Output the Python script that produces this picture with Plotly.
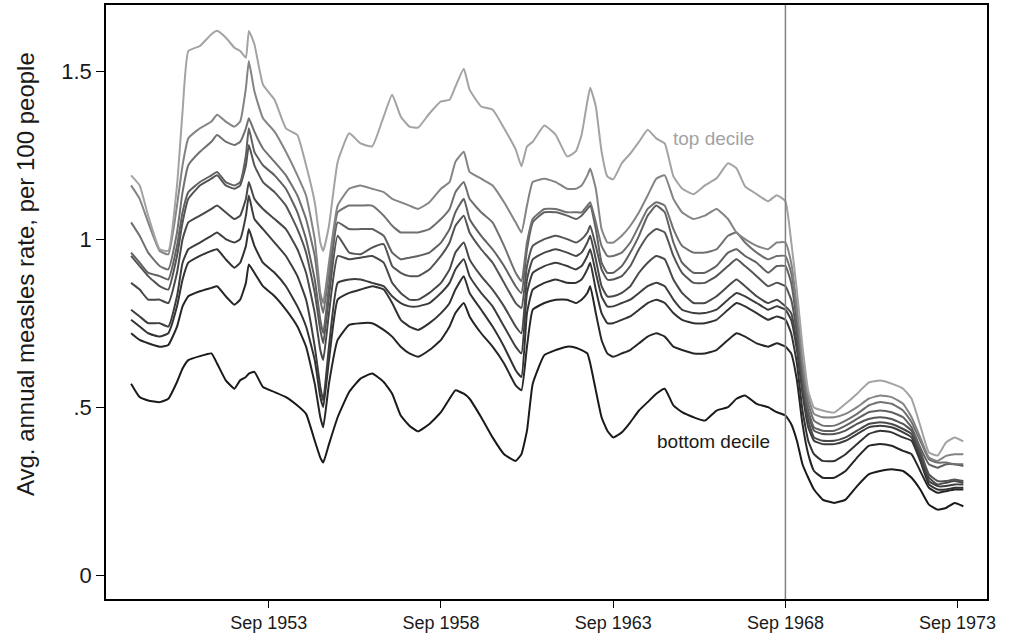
import pandas as pd
import plotly.graph_objects as go

# months since Sep 1949 at which values were read
months = [0,3,6,10,13,16,18,20,24,28,30,33,36,38,40,41,43,46,50,54,58,61,64,66,67,69,72,76,80,84,
          88,91,94,97,100,104,108,111,113,116,118,122,126,130,134,136,138,140,144,148,152,155,157,159,160,
          162,164,166,168,171,174,177,180,183,186,189,192,196,200,204,208,211,214,218,222,225,228,230,232,234,
          236,238,241,245,249,253,257,261,265,269,272,275,278,281,284,287,290]

d10 = [1.19,1.16,1.07,0.97,0.965,1.16,1.38,1.56,1.575,1.61,
       1.62,1.60,1.57,1.56,1.54,1.62,1.58,1.46,1.415,1.33,
       1.31,1.22,1.11,0.99,0.965,1.04,1.23,1.315,1.285,1.276,
       1.365,1.43,1.365,1.335,1.332,1.374,1.41,1.415,1.454,1.507,
       1.445,1.395,1.386,1.33,1.267,1.217,1.276,1.29,1.338,1.31,
       1.246,1.261,1.31,1.41,1.451,1.395,1.261,1.187,1.178,1.226,
       1.255,1.29,1.326,1.30,1.285,1.187,1.151,1.134,1.16,1.181,
       1.226,1.211,1.157,1.134,1.113,1.131,1.113,0.994,0.846,0.682,
       0.549,0.499,0.49,0.484,0.51,0.54,0.573,0.579,0.57,0.555,
       0.525,0.445,0.365,0.356,0.395,0.41,0.398]
d9 = [1.16,1.12,1.05,0.965,0.955,1.10,1.22,1.30,1.33,1.35,
      1.37,1.35,1.335,1.35,1.45,1.53,1.44,1.36,1.32,1.26,
      1.19,1.13,1.00,0.84,0.81,0.93,1.10,1.15,1.16,1.15,
      1.14,1.12,1.11,1.10,1.09,1.11,1.15,1.17,1.23,1.26,
      1.20,1.18,1.16,1.11,1.05,1.02,1.10,1.17,1.18,1.17,
      1.15,1.15,1.16,1.19,1.21,1.15,1.03,0.99,0.99,1.01,
      1.04,1.08,1.13,1.18,1.19,1.12,1.08,1.06,1.07,1.09,
      1.06,1.02,1.00,0.98,0.97,0.99,0.99,0.93,0.80,0.64,
      0.53,0.48,0.47,0.47,0.48,0.50,0.525,0.535,0.53,0.51,
      0.47,0.41,0.35,0.34,0.355,0.36,0.36]
d8 = [1.05,1.01,0.96,0.92,0.91,1.02,1.14,1.22,1.26,1.29,
      1.31,1.29,1.28,1.29,1.33,1.36,1.32,1.27,1.23,1.19,
      1.13,1.06,0.95,0.82,0.78,0.90,1.08,1.10,1.10,1.10,
      1.07,1.04,1.02,1.02,1.02,1.03,1.06,1.09,1.14,1.17,
      1.12,1.08,1.05,0.98,0.90,0.875,0.99,1.06,1.09,1.09,
      1.08,1.08,1.08,1.10,1.11,1.05,0.98,0.95,0.95,0.96,
      0.99,1.04,1.09,1.11,1.10,1.03,0.98,0.96,0.96,0.97,
      1.01,1.02,0.99,0.96,0.94,0.95,0.95,0.90,0.78,0.62,
      0.51,0.46,0.445,0.445,0.46,0.48,0.505,0.515,0.51,0.49,
      0.455,0.40,0.345,0.335,0.335,0.33,0.33]
d7 = [0.96,0.93,0.90,0.89,0.88,0.98,1.08,1.14,1.17,1.19,
      1.20,1.17,1.16,1.17,1.25,1.33,1.26,1.22,1.19,1.15,
      1.08,1.00,0.88,0.76,0.72,0.86,1.05,1.03,1.03,1.03,
      1.01,0.96,0.94,0.945,0.95,0.96,0.99,1.03,1.08,1.12,
      1.06,1.01,0.97,0.92,0.86,0.84,0.97,1.05,1.08,1.08,
      1.07,1.06,1.07,1.09,1.10,1.03,0.93,0.90,0.90,0.92,
      0.96,1.01,1.07,1.10,1.08,0.99,0.93,0.90,0.90,0.92,
      0.96,0.97,0.95,0.93,0.90,0.92,0.92,0.87,0.75,0.60,
      0.49,0.44,0.43,0.43,0.445,0.465,0.485,0.49,0.485,0.47,
      0.44,0.38,0.33,0.32,0.33,0.33,0.325]
d6 = [0.95,0.92,0.89,0.86,0.85,0.95,1.05,1.12,1.16,1.18,
      1.19,1.16,1.15,1.16,1.22,1.28,1.22,1.17,1.14,1.10,
      1.03,0.96,0.84,0.73,0.69,0.83,1.01,0.96,0.955,0.975,
      0.985,0.92,0.90,0.89,0.89,0.91,0.95,0.99,1.04,1.07,
      1.02,0.97,0.93,0.87,0.81,0.795,0.92,0.98,1.00,1.01,
      1.00,0.99,1.00,1.02,1.04,0.98,0.91,0.88,0.88,0.89,
      0.92,0.97,1.01,1.03,1.02,0.95,0.90,0.87,0.87,0.89,
      0.92,0.94,0.92,0.89,0.86,0.87,0.86,0.82,0.72,0.58,
      0.48,0.43,0.42,0.42,0.43,0.45,0.465,0.47,0.465,0.45,
      0.43,0.37,0.30,0.28,0.28,0.285,0.28]
d5 = [0.87,0.85,0.82,0.82,0.81,0.90,1.00,1.05,1.07,1.09,
      1.10,1.08,1.06,1.07,1.12,1.17,1.12,1.09,1.06,1.03,
      0.97,0.90,0.78,0.67,0.64,0.78,0.95,0.94,0.945,0.95,
      0.93,0.87,0.84,0.82,0.82,0.84,0.87,0.91,0.96,0.99,
      0.94,0.89,0.85,0.80,0.74,0.72,0.88,0.94,0.96,0.97,
      0.96,0.95,0.96,0.99,1.01,0.94,0.86,0.83,0.83,0.84,
      0.86,0.90,0.93,0.95,0.94,0.88,0.84,0.81,0.81,0.83,
      0.86,0.88,0.86,0.83,0.81,0.82,0.80,0.78,0.69,0.56,
      0.46,0.41,0.40,0.40,0.41,0.43,0.45,0.455,0.45,0.435,
      0.42,0.36,0.29,0.27,0.275,0.28,0.275]
d4 = [0.79,0.77,0.75,0.75,0.74,0.83,0.93,0.97,0.99,1.01,
      1.02,1.00,0.99,1.00,1.07,1.13,1.06,1.03,0.99,0.95,
      0.89,0.82,0.68,0.56,0.52,0.68,0.87,0.88,0.88,0.87,
      0.86,0.83,0.81,0.80,0.80,0.81,0.84,0.87,0.91,0.94,
      0.89,0.84,0.80,0.74,0.68,0.66,0.84,0.90,0.92,0.93,
      0.92,0.91,0.92,0.95,0.97,0.90,0.83,0.80,0.80,0.81,
      0.82,0.84,0.86,0.87,0.86,0.82,0.79,0.78,0.78,0.79,
      0.82,0.84,0.83,0.81,0.79,0.80,0.79,0.76,0.67,0.54,
      0.44,0.40,0.39,0.39,0.40,0.42,0.44,0.445,0.44,0.425,
      0.41,0.35,0.28,0.265,0.265,0.27,0.27]
d3 = [0.76,0.74,0.72,0.71,0.72,0.80,0.88,0.93,0.95,0.965,
      0.97,0.94,0.915,0.93,0.98,1.03,0.98,0.93,0.90,0.86,
      0.80,0.74,0.64,0.53,0.50,0.64,0.82,0.84,0.85,0.86,
      0.85,0.81,0.76,0.74,0.73,0.75,0.78,0.81,0.85,0.89,
      0.84,0.79,0.74,0.68,0.61,0.59,0.78,0.85,0.87,0.88,
      0.87,0.87,0.88,0.91,0.93,0.85,0.78,0.75,0.75,0.76,
      0.77,0.79,0.81,0.82,0.81,0.78,0.76,0.75,0.75,0.76,
      0.79,0.81,0.80,0.78,0.76,0.77,0.76,0.72,0.63,0.49,
      0.40,0.36,0.34,0.34,0.36,0.39,0.42,0.43,0.425,0.41,
      0.40,0.34,0.27,0.255,0.255,0.26,0.26]
d2 = [0.72,0.70,0.69,0.68,0.685,0.74,0.80,0.83,0.845,0.855,
      0.86,0.83,0.805,0.82,0.87,0.925,0.90,0.86,0.83,0.79,
      0.74,0.68,0.57,0.47,0.44,0.57,0.70,0.745,0.75,0.75,
      0.73,0.71,0.68,0.66,0.65,0.67,0.70,0.74,0.78,0.81,
      0.77,0.72,0.68,0.63,0.565,0.55,0.68,0.79,0.81,0.82,
      0.82,0.81,0.82,0.84,0.86,0.78,0.70,0.66,0.65,0.66,
      0.67,0.69,0.71,0.72,0.71,0.68,0.67,0.66,0.66,0.67,
      0.70,0.72,0.71,0.69,0.68,0.69,0.68,0.66,0.58,0.45,
      0.36,0.31,0.29,0.29,0.31,0.35,0.385,0.39,0.385,0.37,
      0.36,0.31,0.26,0.245,0.25,0.255,0.255]
d1 = [0.57,0.53,0.52,0.515,0.525,0.575,0.615,0.64,0.652,0.66,
      0.63,0.58,0.555,0.58,0.59,0.60,0.605,0.56,0.545,0.53,
      0.505,0.48,0.40,0.35,0.335,0.39,0.47,0.545,0.585,0.60,
      0.575,0.54,0.475,0.445,0.428,0.45,0.485,0.525,0.55,0.54,
      0.525,0.47,0.41,0.36,0.34,0.36,0.43,0.57,0.655,0.67,
      0.68,0.677,0.67,0.66,0.63,0.55,0.47,0.43,0.41,0.425,
      0.455,0.49,0.515,0.54,0.555,0.505,0.485,0.47,0.46,0.49,
      0.50,0.525,0.535,0.51,0.50,0.485,0.475,0.45,0.40,0.33,
      0.29,0.255,0.225,0.215,0.225,0.265,0.30,0.31,0.315,0.31,
      0.29,0.255,0.21,0.195,0.20,0.215,0.205]

series = [d1, d2, d3, d4, d5, d6, d7, d8, d9, d10]
colors = ["#1a1a1a", "#262626", "#323232", "#3d3d3d", "#484848",
          "#545454", "#616161", "#707070", "#848484", "#a3a3a3"]

tick_vals = ["1953-09-01", "1958-09-01", "1963-09-01", "1968-09-01", "1973-09-01"]
tick_text = ["Sep 1953", "Sep 1958", "Sep 1963", "Sep 1968", "Sep 1973"]
y_ticks = [0, 0.5, 1, 1.5]
y_text = ["0", ".5", "1", "1.5"]
y_title = "Avg. annual measles rate, per 100 people"

start = pd.Timestamp("1949-09-01")
dates = [start + pd.DateOffset(months=m) for m in months]

fig = go.Figure()
for vals, col in zip(series, colors):
    fig.add_trace(go.Scatter(x=dates, y=vals, mode="lines",
                             line=dict(color=col, width=2, shape="spline", smoothing=0.4),
                             hoverinfo="skip", showlegend=False))

fig.add_shape(type="line", x0="1968-09-01", x1="1968-09-01", y0=0, y1=1,
              xref="x", yref="paper", line=dict(color="#808080", width=1.5), layer="above")

fig.add_annotation(x="1966-08-01", y=1.30, text="top decile", showarrow=False,
                   font=dict(size=19, color="#a3a3a3"))
fig.add_annotation(x="1966-08-01", y=0.398, text="bottom decile", showarrow=False,
                   font=dict(size=19, color="#1a1a1a"))
fig.add_annotation(xref="paper", yref="paper", x=0, y=0.547, xshift=-81,
                   xanchor="center", yanchor="middle", textangle=-90,
                   text=y_title, showarrow=False,
                   font=dict(size=24, color="#1a1a1a"))

fig.update_layout(
    width=1011, height=638,
    margin=dict(l=106, r=24, t=3, b=39),
    paper_bgcolor="white", plot_bgcolor="white",
    font=dict(family="Liberation Sans, Arial, sans-serif", size=17, color="#1a1a1a"),
    xaxis=dict(range=["1948-12-09", "1974-07-10"], tickvals=tick_vals, ticktext=tick_text,
               showgrid=False, zeroline=False, showline=True, linecolor="black", linewidth=1.5,
               mirror=True, ticks="outside", ticklen=7, tickcolor="black", tickwidth=1.2,
               tickfont=dict(size=18)),
    yaxis=dict(range=[-0.071, 1.697], tickvals=y_ticks, ticktext=y_text,
               showgrid=False, zeroline=False, showline=True, linecolor="black", linewidth=1.5,
               mirror=True, ticks="outside", ticklen=8, tickcolor="black", tickwidth=1.2,
               tickfont=dict(size=22)),
)

fig.write_html("out.html", config={"displayModeBar": False},
               post_script="document.body.style.margin='0px';document.body.style.overflow='hidden';")
